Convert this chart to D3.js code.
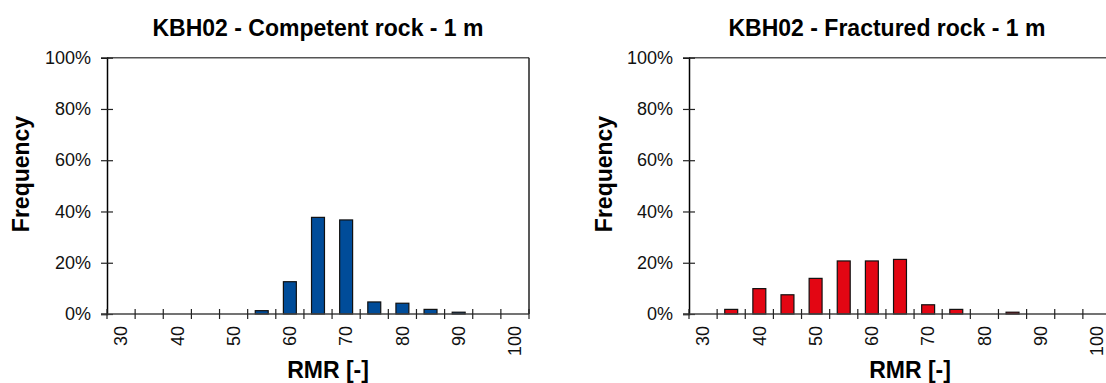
<!DOCTYPE html>
<html>
<head>
<meta charset="utf-8">
<script src="https://cdn.jsdelivr.net/npm/d3@7"></script>
<style>
  body { margin: 0; background: #fff; }
  svg { display: block; font-family: "Liberation Sans", Arial, sans-serif; }
</style>
</head>
<body>
<script>
"use strict";

// RMR classes (bin centres)
const categories = [30, 35, 40, 45, 50, 55, 60, 65, 70, 75, 80, 85, 90, 95, 100];
const tickLabels = [30, 40, 50, 60, 70, 80, 90, 100];
const yTicks = [0, 0.2, 0.4, 0.6, 0.8, 1.0];

// frequencies
const competent = [0, 0, 0, 0, 0, 0.013, 0.126, 0.377, 0.367, 0.047, 0.042, 0.018, 0.007, 0, 0];
const fractured = [0, 0.018, 0.099, 0.075, 0.139, 0.207, 0.207, 0.213, 0.036, 0.018, 0, 0.007, 0, 0, 0];

const panels = [
  { title: "KBH02 - Competent rock - 1 m", values: competent, color: "#004c99", left: 107, titleX: 318, freqX: 21 },
  { title: "KBH02 - Fractured rock - 1 m", values: fractured, color: "#e30613", left: 689, titleX: 887, freqX: 604 }
];

const W = 1106, H = 383;
const wPlot = 422, yTop = 57.7, yBottom = 314;

const svg = d3.select("body").append("svg")
  .attr("width", W).attr("height", H);

svg.append("rect").attr("width", W).attr("height", H).attr("fill", "#fff");

panels.forEach(p => drawPanel(p));

function drawPanel(p) {
  const x = d3.scaleBand()
    .domain(categories)
    .range([p.left, p.left + wPlot])
    .padding(0);
  const bw = x.bandwidth();
  const barW = bw * 0.46;

  const y = d3.scaleLinear().domain([0, 1]).range([yBottom, yTop]);

  const g = svg.append("g");

  // title
  g.append("text")
    .attr("x", p.titleX).attr("y", 36)
    .attr("text-anchor", "middle")
    .attr("font-size", 23).attr("font-weight", "bold")
    .text(p.title);

  // plot frame (top / right)
  g.append("line")
    .attr("x1", p.left).attr("x2", p.left + wPlot)
    .attr("y1", y(1)).attr("y2", y(1))
    .attr("stroke", "#555").attr("stroke-width", 1.5);
  g.append("line")
    .attr("x1", p.left + wPlot).attr("x2", p.left + wPlot)
    .attr("y1", y(1)).attr("y2", y(0))
    .attr("stroke", "#222").attr("stroke-width", 1.5);

  // bars
  g.selectAll("rect.bar")
    .data(categories.map((c, i) => ({ c: c, v: p.values[i] })).filter(d => d.v > 0))
    .enter()
    .append("rect")
    .attr("class", "bar")
    .attr("x", d => x(d.c) + (bw - barW) / 2)
    .attr("width", barW)
    .attr("y", d => y(d.v))
    .attr("height", d => y(0) - y(d.v))
    .attr("fill", p.color)
    .attr("stroke", "#111")
    .attr("stroke-width", 1.2);

  // y axis
  const yAxis = g.append("g").attr("transform", `translate(${p.left},0)`)
    .call(d3.axisLeft(y).tickValues(yTicks).tickFormat(d3.format(".0%")).tickSize(6).tickPadding(10));
  yAxis.select(".domain").attr("stroke", "#000").attr("stroke-width", 1.5);
  yAxis.selectAll(".tick line").attr("x1", -6).attr("x2", 6).attr("stroke", "#222").attr("stroke-width", 1.2);
  yAxis.selectAll(".tick text")
    .attr("font-size", 18).attr("font-family", "Liberation Sans, Arial, sans-serif")
    .attr("fill", "#111");

  // x axis baseline
  g.append("line")
    .attr("x1", p.left - 6).attr("x2", p.left + wPlot)
    .attr("y1", y(0)).attr("y2", y(0))
    .attr("stroke", "#444").attr("stroke-width", 1.5);

  // category boundary ticks
  const bounds = categories.map(c => x(c)).concat([x(categories[categories.length - 1]) + bw]);
  g.selectAll("line.xtick")
    .data(bounds)
    .enter()
    .append("line")
    .attr("class", "xtick")
    .attr("x1", d => d).attr("x2", d => d)
    .attr("y1", y(0) - 5).attr("y2", y(0) + 5)
    .attr("stroke", "#222").attr("stroke-width", 1.2);

  // x tick labels (rotated)
  g.selectAll("text.xlab")
    .data(tickLabels)
    .enter()
    .append("text")
    .attr("class", "xlab")
    .attr("transform", d => `translate(${x(d) + bw / 2},${y(0) + 12}) rotate(-90)`)
    .attr("text-anchor", "end")
    .attr("dy", "0.35em")
    .attr("font-size", 18)
    .attr("fill", "#111")
    .text(d => d);

  // axis titles
  g.append("text")
    .attr("x", p.left + wPlot / 2 + 10).attr("y", 378)
    .attr("text-anchor", "middle")
    .attr("font-size", 23).attr("font-weight", "bold")
    .text("RMR [-]");

  g.append("text")
    .attr("transform", `translate(${p.freqX + 8},174) rotate(-90)`)
    .attr("text-anchor", "middle")
    .attr("font-size", 23).attr("font-weight", "bold")
    .text("Frequency");
}
</script>
</body>
</html>
